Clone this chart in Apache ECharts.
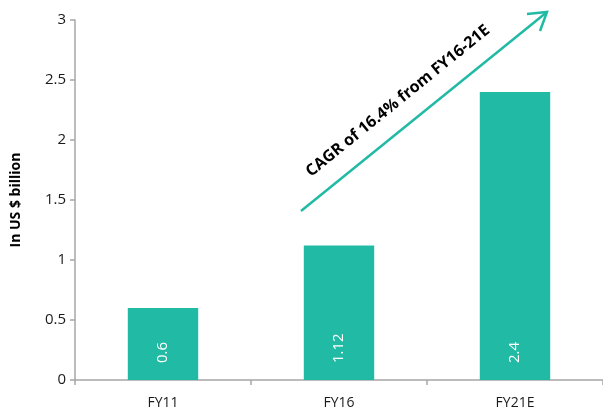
<!DOCTYPE html>
<html>
<head>
<meta charset="utf-8">
<script src="https://cdn.jsdelivr.net/npm/echarts@6/dist/echarts.min.js"></script>
<style>
  html, body { margin: 0; padding: 0; background: #fff; }
  #chart { width: 603px; height: 412px; }
</style>
</head>
<body>
<div id="chart"></div>
<script>
// Market size by fiscal year, in US $ billion
const categories = ['FY11', 'FY16', 'FY21E'];
const values = [0.6, 1.12, 2.4];
const yTicks = [0, 0.5, 1, 1.5, 2, 2.5, 3];
const cagrText = 'CAGR of 16.4% from FY16-21E';

const teal = '#21BAA5';
const axisGray = '#A6A6A6';
const font = '"Open Sans", "Liberation Sans", sans-serif';

const chart = echarts.init(document.getElementById('chart'));

chart.setOption({
  animation: false,
  grid: { left: 75, right: 0, top: 20, bottom: 32, containLabel: false },
  xAxis: {
    type: 'category',
    data: categories,
    axisLine: { lineStyle: { color: axisGray, width: 1.5 } },
    axisTick: { show: true, length: 5, lineStyle: { color: axisGray, width: 1.5 } },
    axisLabel: { color: '#1a1a1a', fontSize: 14, fontFamily: font, margin: 16 }
  },
  yAxis: {
    type: 'value',
    min: yTicks[0],
    max: yTicks[yTicks.length - 1],
    interval: 0.5,
    name: 'In US $ billion',
    nameLocation: 'middle',
    nameGap: 52,
    nameTextStyle: { fontSize: 14, fontWeight: 'bold', color: '#000', fontFamily: font },
    splitLine: { show: false },
    axisLine: { show: true, lineStyle: { color: axisGray, width: 1.5 } },
    axisTick: { show: true, length: 5, lineStyle: { color: axisGray, width: 1.5 } },
    axisLabel: {
      color: '#1a1a1a', fontSize: 15, fontFamily: font, margin: 9,
      formatter: v => String(v)
    }
  },
  series: [{
    type: 'bar',
    data: values,
    barWidth: '40%',
    itemStyle: { color: teal },
    label: {
      show: true,
      position: 'insideBottom',
      rotate: 90,
      align: 'left',
      verticalAlign: 'middle',
      distance: 17,
      color: '#fff',
      fontSize: 15,
      fontFamily: font
    }
  }],
  graphic: [
    // growth arrow shaft
    {
      type: 'line',
      shape: { x1: 301, y1: 211, x2: 547, y2: 12 },
      style: { stroke: teal, lineWidth: 2.5 }
    },
    // open arrowhead
    {
      type: 'polyline',
      shape: { points: [[527, 14], [547, 12], [540, 31]] },
      style: { stroke: teal, lineWidth: 2.5, fill: null }
    },
    {
      type: 'text',
      x: 398,
      y: 101,
      rotation: Math.atan2(199, 246),
      style: {
        text: cagrText,
        fontSize: 16,
        fontWeight: 'bold',
        fontFamily: font,
        fill: '#000',
        align: 'center',
        verticalAlign: 'middle'
      }
    }
  ]
});
</script>
</body>
</html>
